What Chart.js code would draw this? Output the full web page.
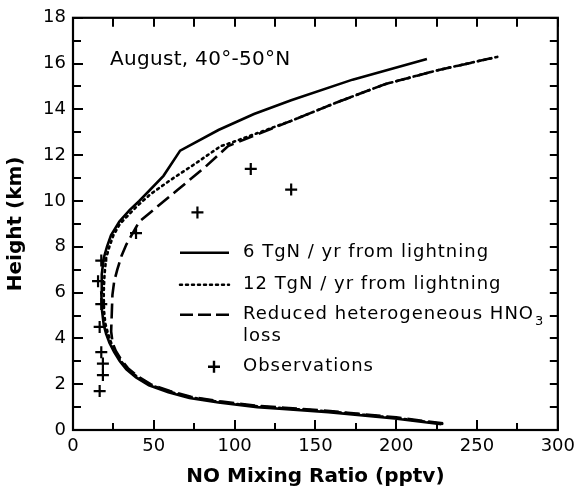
<!DOCTYPE html>
<html>
<head>
<meta charset="utf-8">
<script src="https://cdn.jsdelivr.net/npm/chart.js@4"></script>
<style>
  html, body { margin: 0; padding: 0; background: #fff; }
  #wrap { width: 581px; height: 493px; }
</style>
</head>
<body>
<div id="wrap"><canvas id="grafico" width="581" height="493"></canvas></div>
<script>
// 6 TgN/yr from lightning
const solidNO = [228, 199, 158, 130, 114, 90, 72, 59, 47, 39, 33, 29, 25.5, 22.6, 20.5, 19, 18, 17.5, 17.8, 19, 21, 23.5, 28.7, 35, 41, 56, 66.3, 90, 112, 135, 173, 219];
const solidKm = [0.25, 0.5, 0.78, 0.92, 1.0, 1.2, 1.4, 1.65, 1.95, 2.3, 2.65, 3.0, 3.4, 3.8, 4.2, 4.6, 5.2, 6.0, 6.8, 7.5, 8.0, 8.5, 9.1, 9.6, 10.0, 11.1, 12.2, 13.1, 13.8, 14.4, 15.3, 16.2];

// 12 TgN/yr from lightning
const dottedNO = [228.5, 199.5, 158.5, 130.5, 114.5, 90.5, 72.5, 59.5, 47.5, 39.5, 33.5, 29.5, 26.2, 23.5, 21.5, 20, 19.2, 19, 19.5, 20.5, 22.5, 25, 29, 40, 48, 60, 75, 91.5, 96, 135, 163, 193, 225, 263];
const dottedKm = [0.27, 0.53, 0.81, 0.95, 1.03, 1.23, 1.43, 1.68, 1.98, 2.33, 2.68, 3.03, 3.43, 3.83, 4.25, 4.65, 5.2, 6.0, 6.8, 7.5, 8.0, 8.5, 9.0, 9.8, 10.3, 10.9, 11.6, 12.4, 12.5, 13.5, 14.3, 15.1, 15.7, 16.3];

// Reduced heterogeneous HNO3 loss
const dashedNO = [229, 200, 159, 131, 115, 91, 73, 60, 48, 40, 34, 30, 26.5, 24.5, 23.6, 24, 24.4, 25.5, 27.4, 30, 33, 41, 53, 65, 82, 96, 135, 163, 193, 225, 263];
const dashedKm = [0.29, 0.55, 0.83, 0.97, 1.05, 1.25, 1.45, 1.7, 2.0, 2.35, 2.7, 3.05, 3.45, 3.8, 4.3, 5.1, 5.9, 6.5, 7.0, 7.6, 8.1, 9.1, 9.8, 10.5, 11.5, 12.4, 13.5, 14.3, 15.1, 15.7, 16.3];

// Observations
const obsNO = [17.5, 15.5, 17.5, 16.5, 17.5, 18.5, 18.5, 16.5, 39, 77, 110, 135];
const obsKm = [7.4, 6.5, 5.5, 4.5, 3.4, 2.9, 2.4, 1.7, 8.6, 9.5, 11.4, 10.5];

const xTicks = [0, 50, 100, 150, 200, 250, 300];
const yTicks = [0, 2, 4, 6, 8, 10, 12, 14, 16, 18];

const pares = (xs, ys) => xs.map((v, i) => ({ x: v, y: ys[i] }));

const fonte = "'DejaVu Sans', sans-serif";

// ticks pointing inward on all four sides, the frame, annotation and legend
const molduraPlugin = {
  id: "moldura",
  afterDraw(chart) {
    const ctx = chart.ctx;
    const a = chart.chartArea;
    const sx = chart.scales.x;
    const sy = chart.scales.y;
    ctx.save();
    ctx.strokeStyle = "#000";
    ctx.lineWidth = 2;
    for (let v = 0; v <= 300; v += 25) {
      const px = Math.round(sx.getPixelForValue(v));
      const len = v % 50 === 0 ? 10 : 7;
      ctx.beginPath();
      ctx.moveTo(px, a.bottom); ctx.lineTo(px, a.bottom - len);
      ctx.moveTo(px, a.top); ctx.lineTo(px, a.top + 9);
      ctx.stroke();
    }
    for (let v = 0; v <= 18; v += 1) {
      const py = Math.round(sy.getPixelForValue(v));
      const len = v % 2 === 0 ? 10 : 8;
      ctx.beginPath();
      ctx.moveTo(a.left, py); ctx.lineTo(a.left + len, py);
      ctx.moveTo(a.right, py); ctx.lineTo(a.right - 8, py);
      ctx.stroke();
    }
    ctx.lineWidth = 2.2;
    ctx.strokeRect(a.left, a.top, a.right - a.left, a.bottom - a.top);

    ctx.fillStyle = "#000";
    ctx.textBaseline = "middle";
    ctx.font = "20px " + fonte;
    ctx.letterSpacing = "0.3px";
    ctx.fillText("August, 40°-50°N", a.left + 37, a.top + 42);

    ctx.font = "18px " + fonte;
    ctx.letterSpacing = "1px";
    const lx0 = a.left + 107, lx1 = a.left + 156, tx = a.left + 170;
    const linhas = [
      { y: a.top + 235, dash: [], txt: "6 TgN / yr from lightning" },
      { y: a.top + 267, dash: [2, 4], txt: "12 TgN / yr from lightning" },
      { y: a.top + 297, dash: [13, 5], txt: "Reduced heterogeneous HNO" },
    ];
    ctx.lineWidth = 2.5;
    linhas.forEach((l) => {
      ctx.setLineDash(l.dash);
      ctx.lineCap = l.dash.length && l.dash[0] < 4 ? "round" : "butt";
      ctx.beginPath();
      ctx.moveTo(lx0, l.y); ctx.lineTo(lx1, l.y);
      ctx.stroke();
      ctx.fillText(l.txt, tx, l.y);
    });
    ctx.setLineDash([]);
    ctx.lineCap = "butt";
    const w = ctx.measureText(linhas[2].txt).width;
    ctx.font = "13px " + fonte;
    ctx.fillText("3", tx + w + 1, linhas[2].y + 7);
    ctx.font = "18px " + fonte;
    ctx.fillText("loss", tx, a.top + 319);
    const cx = a.left + 141, cy = a.top + 349;
    ctx.lineWidth = 2.4;
    ctx.beginPath();
    ctx.moveTo(cx - 6, cy); ctx.lineTo(cx + 6, cy);
    ctx.moveTo(cx, cy - 6); ctx.lineTo(cx, cy + 6);
    ctx.stroke();
    ctx.fillText("Observations", tx, cy);
    ctx.restore();
  },
};

const data = {
  datasets: [
    {
      label: "6 TgN/yr from lightning",
      data: pares(solidNO, solidKm),
      showLine: true,
      borderColor: "#000",
      borderWidth: 2.6,
      pointRadius: 0,
      tension: 0,
    },
    {
      label: "12 TgN/yr from lightning",
      data: pares(dottedNO, dottedKm),
      showLine: true,
      borderColor: "#000",
      borderWidth: 2.6,
      borderDash: [2, 4],
      borderCapStyle: "round",
      pointRadius: 0,
      tension: 0,
    },
    {
      label: "Reduced heterogeneous HNO3 loss",
      data: pares(dashedNO, dashedKm),
      showLine: true,
      borderColor: "#000",
      borderWidth: 2.6,
      borderDash: [15, 6],
      pointRadius: 0,
      tension: 0,
    },
    {
      label: "Observations",
      data: pares(obsNO, obsKm),
      showLine: false,
      pointStyle: "cross",
      pointRadius: 6,
      borderColor: "#000",
      borderWidth: 2.2,
    },
  ],
};

const option = {
  responsive: false,
  animation: false,
  layout: { padding: { top: 16, right: 16, left: 0, bottom: 0 } },
  plugins: {
    legend: { display: false },
    tooltip: { enabled: false },
  },
  scales: {
    x: {
      type: "linear",
      min: 0,
      max: 300,
      afterFit: (s) => { s.height = 63; },
      afterBuildTicks: (s) => { s.ticks = xTicks.map((v) => ({ value: v })); },
      grid: { display: false, drawTicks: false },
      border: { display: false },
      ticks: { font: { size: 18, family: fonte }, color: "#000", padding: 6 },
      title: {
        display: true,
        text: "NO Mixing Ratio (pptv)",
        font: { size: 20, weight: "bold", family: fonte },
        color: "#000",
        padding: { top: 4 },
      },
    },
    y: {
      type: "linear",
      min: 0,
      max: 18,
      afterFit: (s) => { s.width = 73; },
      afterBuildTicks: (s) => { s.ticks = yTicks.map((v) => ({ value: v })); },
      grid: { display: false, drawTicks: false },
      border: { display: false },
      ticks: { font: { size: 18, family: fonte }, color: "#000", padding: 7 },
      title: {
        display: true,
        text: "Height (km)",
        font: { size: 20, weight: "bold", family: fonte },
        color: "#000",
        padding: { bottom: 0 },
      },
    },
  },
};

const config = {
  type: "scatter",
  data: data,
  options: option,
  plugins: [molduraPlugin],
};

const grafico = new Chart(document.getElementById("grafico"), config);
</script>
</body>
</html>
